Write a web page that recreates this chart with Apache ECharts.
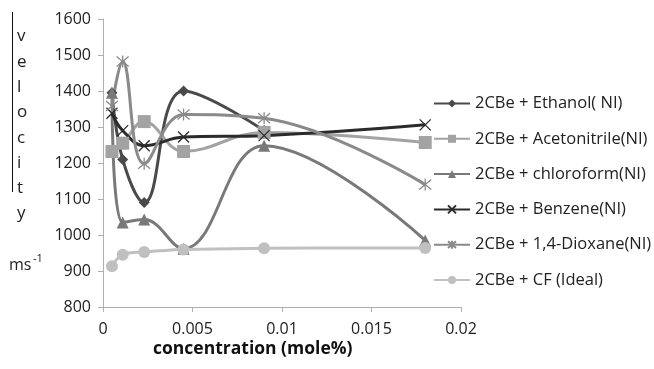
<!DOCTYPE html>
<html>
<head>
<meta charset="utf-8">
<script src="https://cdn.jsdelivr.net/npm/echarts@6/dist/echarts.min.js"></script>
<style>
  html, body { margin: 0; padding: 0; background: #fff; }
  #chart { width: 654px; height: 369px; }
</style>
</head>
<body>
<div id="chart"></div>
<script>
// Concentration (mole%) at which each velocity was measured
const concentration = [0.0005, 0.0011, 0.0023, 0.0045, 0.009, 0.018];

// Ultrasonic velocity (m/s) for each binary mixture
const ethanol      = [1395, 1210, 1090, 1400, 1290, null];
const acetonitrile = [1232, 1255, 1315, 1232, 1285, 1257];
const chloroform   = [1395, 1035, 1043, 962, 1248, 985];
const benzene      = [1338, 1290, 1248, 1272, 1276, 1306];
const dioxane      = [1358, 1482, 1198, 1335, 1324, 1140];
const cfIdeal      = [913, 945, 953, 960, 963, 964];

const seriesNames = [
  '2CBe + Ethanol( NI)',
  '2CBe + Acetonitrile(NI)',
  '2CBe + chloroform(NI)',
  '2CBe + Benzene(NI)',
  '2CBe + 1,4-Dioxane(NI)',
  '2CBe + CF (Ideal)'
];

const xTicks = [0, 0.005, 0.01, 0.015, 0.02];
const yTicks = [800, 900, 1000, 1100, 1200, 1300, 1400, 1500, 1600];

const crossPath = 'path://M0,0L10,10M10,0L0,10';
const starPath = 'path://M0,0L10,10M10,0L0,10M5,-1L5,11';

function pairs(vals) {
  return concentration.map((x, i) => [x, vals[i]]);
}

function lineSeries(name, vals, color, symbol, size, hollow) {
  return {
    name: name,
    type: 'line',
    data: pairs(vals),
    smooth: 0.4,
    symbol: symbol,
    symbolSize: size,
    showSymbol: true,
    lineStyle: { color: color, width: 3 },
    itemStyle: hollow
      ? { color: 'rgba(0,0,0,0)', borderColor: color, borderWidth: 1.3 }
      : { color: color, borderWidth: 0 },
    emphasis: { disabled: true },
    animation: false
  };
}

const chart = echarts.init(document.getElementById('chart'), null, { renderer: 'canvas' });

const labelFont = '"Open Sans", "Liberation Sans", sans-serif';

chart.setOption({
  backgroundColor: '#ffffff',
  animation: false,
  grid: { left: 103, right: 193, top: 19, bottom: 62, containLabel: false },
  xAxis: {
    type: 'value',
    min: 0,
    max: 0.02,
    interval: 0.005,
    splitLine: { show: false },
    axisLine: { show: true, lineStyle: { color: '#b0b0b0', width: 1 } },
    axisTick: { show: true, length: 5, lineStyle: { color: '#b0b0b0' } },
    axisLabel: {
      color: '#222',
      fontSize: 16,
      fontFamily: labelFont,
      margin: 14,
      formatter: v => String(xTicks.find(t => Math.abs(t - v) < 1e-9) ?? v)
    }
  },
  yAxis: {
    type: 'value',
    min: yTicks[0],
    max: yTicks[yTicks.length - 1],
    interval: 100,
    splitLine: { show: false },
    axisLine: { show: true, lineStyle: { color: '#b0b0b0', width: 1 } },
    axisTick: { show: true, length: 5, lineStyle: { color: '#b0b0b0' } },
    axisLabel: {
      color: '#222',
      fontSize: 16,
      fontFamily: labelFont,
      margin: 12,
      formatter: v => String(yTicks.find(t => t === v) ?? v)
    }
  },
  legend: {
    orient: 'vertical',
    left: 433,
    top: 95,
    padding: 0,
    itemWidth: 36,
    itemHeight: 10,
    itemGap: 18.3,
    textStyle: { color: '#222', fontSize: 16.5, fontFamily: labelFont },
    data: seriesNames
  },
  series: [
    lineSeries(seriesNames[0], ethanol, '#4a4a4a', 'diamond', 11, false),
    lineSeries(seriesNames[1], acetonitrile, '#a3a3a3', 'rect', 13, false),
    lineSeries(seriesNames[2], chloroform, '#797979', 'triangle', 12, false),
    lineSeries(seriesNames[3], benzene, '#2b2b2b', crossPath, 11, true),
    lineSeries(seriesNames[4], dioxane, '#8a8a8a', starPath, 12, true),
    lineSeries(seriesNames[5], cfIdeal, '#c0c0c0', 'circle', 12, false)
  ],
  graphic: [
    // vertical rule beside the axis title
    { type: 'line', shape: { x1: 12.5, y1: 12, x2: 12.5, y2: 192 }, style: { stroke: '#111', lineWidth: 1 } },
    // axis title written one letter per line
    ...'velocity'.split('').map((ch, i) => ({
      type: 'text',
      left: 17,
      top: 28 + i * 25.3,
      style: { text: ch, font: '17px ' + labelFont, fill: '#222' }
    })),
    { type: 'text', left: 9, top: 257, style: { text: 'ms', font: '16px ' + labelFont, fill: '#222' } },
    { type: 'text', left: 33, top: 253, style: { text: '-1', font: '11px ' + labelFont, fill: '#222' } },
    {
      type: 'text',
      left: 153,
      top: 340,
      style: { text: 'concentration (mole%)', font: 'bold 17.5px ' + labelFont, fill: '#111' }
    }
  ]
});
</script>
</body>
</html>
